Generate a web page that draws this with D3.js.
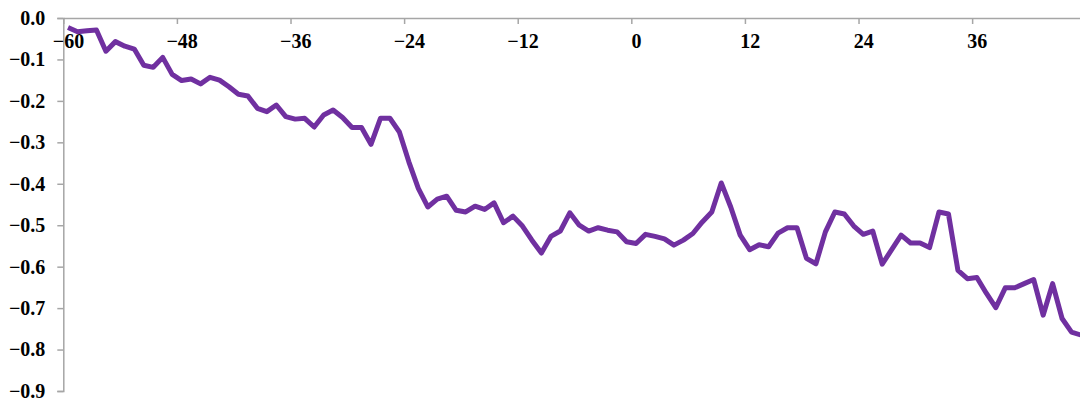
<!DOCTYPE html>
<html>
<head>
<meta charset="utf-8">
<script src="https://cdn.jsdelivr.net/npm/d3@7"></script>
<style>
  html, body { margin: 0; padding: 0; background: #fff; }
  svg { display: block; }
  .tick text { font-family: "Liberation Serif", "Times New Roman", serif; font-weight: bold; fill: #000; }
</style>
</head>
<body>
<svg id="chart" width="1080" height="405"></svg>
<script>
// Category axis: months relative to event
const months = [
  -60,-59,-58,-57,-56,-55,-54,-53,-52,-51,-50,-49,
  -48,-47,-46,-45,-44,-43,-42,-41,-40,-39,-38,-37,
  -36,-35,-34,-33,-32,-31,-30,-29,-28,-27,-26,-25,
  -24,-23,-22,-21,-20,-19,-18,-17,-16,-15,-14,-13,
  -12,-11,-10,-9,-8,-7,-6,-5,-4,-3,-2,-1,
  0,1,2,3,4,5,6,7,8,9,10,11,
  12,13,14,15,16,17,18,19,20,21,22,23,
  24,25,26,27,28,29,30,31,32,33,34,35,
  36,37,38,39,40,41,42,43,44,45,46,47
];

// Series values
const values = [
  -0.023,-0.033,-0.031,-0.029,-0.080,-0.057,-0.068,-0.075,-0.114,-0.119,-0.095,-0.136,
  -0.151,-0.147,-0.159,-0.143,-0.150,-0.166,-0.184,-0.188,-0.218,-0.226,-0.210,-0.238,
  -0.244,-0.242,-0.263,-0.234,-0.222,-0.240,-0.264,-0.264,-0.305,-0.242,-0.242,-0.275,
  -0.347,-0.411,-0.456,-0.437,-0.430,-0.464,-0.468,-0.454,-0.462,-0.446,-0.494,-0.478,
  -0.502,-0.536,-0.567,-0.527,-0.514,-0.470,-0.500,-0.514,-0.506,-0.512,-0.516,-0.540,
  -0.544,-0.522,-0.527,-0.533,-0.548,-0.536,-0.520,-0.492,-0.468,-0.398,-0.456,-0.524,
  -0.559,-0.547,-0.552,-0.519,-0.506,-0.506,-0.580,-0.593,-0.516,-0.468,-0.473,-0.502,
  -0.522,-0.514,-0.594,-0.559,-0.524,-0.543,-0.543,-0.554,-0.468,-0.473,-0.609,-0.629,
  -0.626,-0.664,-0.699,-0.651,-0.651,-0.641,-0.631,-0.717,-0.641,-0.725,-0.758,-0.765
];

// Tick labels
const xTicks = [-60, -48, -36, -24, -12, 0, 12, 24, 36];
const yTicks = [0, -0.1, -0.2, -0.3, -0.4, -0.5, -0.6, -0.7, -0.8, -0.9];

const svg = d3.select("#chart");
const mLeft = 63.3, mTop = 18, mBottom = 391;
const unit = 9.467;

const x = d3.scaleLinear().domain([-60, 48]).range([mLeft, mLeft + 108 * unit]);
const y = d3.scaleLinear().domain([-0.9, 0]).range([mBottom, mTop]);

const axisColor = "#a6a6a6";

// Y axis
const yAxis = svg.append("g")
  .attr("transform", `translate(${mLeft},0)`)
  .call(d3.axisLeft(y).tickValues(yTicks).tickSize(6).tickPadding(12)
    .tickFormat(d => d === 0 ? "0.0" : d3.format(".1f")(d)));
yAxis.select(".domain").attr("stroke", axisColor).attr("stroke-width", 1.5);
yAxis.selectAll(".tick line").attr("stroke", axisColor).attr("stroke-width", 1.5);
yAxis.selectAll(".tick text").style("font-size", "20px");

// X axis (at y = 0, labels below, ticks pointing down into plot)
const xAxis = svg.append("g")
  .attr("transform", `translate(0,${y(0)})`)
  .call(d3.axisBottom(x).tickValues(xTicks).tickSize(6).tickSizeOuter(0).tickPadding(10)
    .tickFormat(d3.format("d")));
xAxis.select(".domain").attr("stroke", axisColor).attr("stroke-width", 1.5);
xAxis.selectAll(".tick line").attr("stroke", axisColor).attr("stroke-width", 1.5);
xAxis.selectAll(".tick text").style("font-size", "20px").attr("dx", unit / 2);

// Line (points at category centres)
const data = months.map((m, i) => ({ m, v: values[i] }));
const line = d3.line()
  .x(d => x(d.m + 0.5))
  .y(d => y(d.v));

svg.append("path")
  .datum(data)
  .attr("fill", "none")
  .attr("stroke", "#7030A0")
  .attr("stroke-width", 5)
  .attr("stroke-linejoin", "round")
  .attr("d", line);
</script>
</body>
</html>
